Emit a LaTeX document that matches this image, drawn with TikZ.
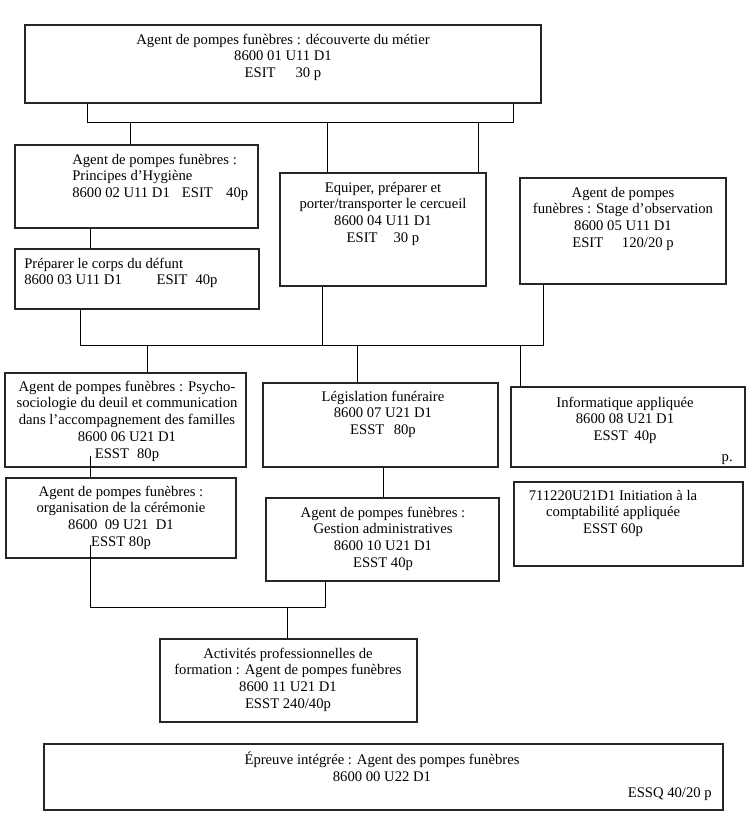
\documentclass[tikz,border=0pt]{standalone}
\usepackage{fontspec}
\setmainfont{Liberation Serif}
\usetikzlibrary{fit}
\begin{document}
\begin{tikzpicture}[x=0.75pt,y=-0.75pt,
  box/.style={draw, line width=1.1pt, inner sep=0pt, color=black!85},
  txt/.style={inner sep=0pt, align=center, font=\fontsize{11pt}{12.65pt}\selectfont},
  txtl/.style={txt, align=left},
  conn/.style={line width=0.7pt}]
\useasboundingbox (0,0) rectangle (754,817);

% boxes
\node[box, fit={(25,25) (541,103)}] (b1) {};
\node[box, fit={(15,145) (258,228)}] (b2) {};
\node[box, fit={(15,249) (259,309)}] (b3) {};
\node[box, fit={(280,173) (486,286)}] (b4) {};
\node[box, fit={(520,178) (726,284)}] (b5) {};
\node[box, fit={(5,373) (246,467)}] (b6) {};
\node[box, fit={(263,383) (498,467)}] (b7) {};
\node[box, fit={(511,387) (745,467)}] (b8) {};
\node[box, fit={(6,478) (236,558)}] (b9) {};
\node[box, fit={(266,498) (499,581)}] (b10) {};
\node[box, fit={(514,482) (743,566)}] (b11) {};
\node[box, fit={(160,639) (417,722)}] (b12) {};
\node[box, fit={(44,744) (723,810)}] (b13) {};

% texts
\node[txt, anchor=north] (t1) at (283,32) {\strut Agent de pompes funèbres : découverte du métier\\ 8600 01 U11 D1\\ ESIT\hspace*{15pt}30 p};
\node[txtl, anchor=north west] (t2) at (72,152) {\strut Agent de pompes funèbres :\\ Principes d’Hygiène\\ 8600 02 U11 D1\hspace*{9pt}ESIT\hspace*{10pt}40p};
\node[txtl, anchor=north west] (t3) at (24,256) {\strut Préparer le corps du défunt\\ 8600 03 U11 D1\hspace*{26pt}ESIT\hspace*{6pt}40p};
\node[txt, anchor=north] (t4) at (383,180) {\strut Equiper, préparer et\\ porter/transporter le cercueil\\ 8600 04 U11 D1\\ ESIT\hspace*{12pt}30 p};
\node[txt, anchor=north] (t5) at (623,185) {\strut Agent de pompes\\ funèbres : Stage d’observation\\ 8600 05 U11 D1\\ ESIT\hspace*{14pt}120/20 p};
\node[txt, anchor=north] (t6) at (127,379) {\strut Agent de pompes funèbres : Psycho-\\ sociologie du deuil et communication\\ dans l’accompagnement des familles\\ 8600 06 U21 D1\\ ESST\hspace*{6pt}80p};
\node[txt, anchor=north] (t7) at (383,389) {\strut Législation funéraire\\ 8600 07 U21 D1\\ ESST\hspace*{7pt}80p};
\node[txt, anchor=north] (t8) at (625,395) {\strut Informatique appliquée\\ 8600 08 U21 D1\\ ESST\hspace*{5pt}40p};
\node[txt, anchor=base east] (t8p) at (733,461) {p.};
\node[txt, anchor=north] (t9) at (121,484) {\strut Agent de pompes funèbres :\\ organisation de la cérémonie\\ 8600\ \ 09 U21\ \ D1\\ ESST 80p};
\node[txt, anchor=north] (t10) at (383,505) {\strut Agent de pompes funèbres :\\ Gestion administratives\\ 8600 10 U21 D1\\ ESST 40p};
\node[txt, anchor=north] (t11) at (613,488) {\strut 711220U21D1 Initiation à la\\ comptabilité appliquée\\ ESST 60p};
\node[txt, anchor=north] (t12) at (288,646) {\strut Activités professionnelles de\\ formation : Agent de pompes funèbres\\ 8600 11 U21 D1\\ ESST 240/40p};
\node[txt, anchor=north] (t13) at (382,752) {\strut Épreuve intégrée : Agent des pompes funèbres\\ 8600 00 U22 D1};
\node[txt, anchor=base east] (t13b) at (712,797) {ESSQ 40/20 p};

% connectors
\coordinate (j1a) at (87,122);
\coordinate (j1b) at (513,122);
\draw[conn] (b1.south -| j1a) -- (j1a) -- (j1b) -- (b1.south -| j1b);
\coordinate (d1) at (130,122);
\coordinate (d2) at (327,122);
\coordinate (d3) at (478,122);
\draw[conn] (d1) -- (d1 |- b2.north);
\draw[conn] (d2) -- (d2 |- b4.north);
\draw[conn] (d3) -- (d3 |- b4.north);

\coordinate (x90) at (90,0);
\draw[conn] (b2.south -| x90) -- (b3.north -| x90);

\coordinate (j2a) at (80,345);
\coordinate (j2b) at (543,345);
\coordinate (j2c) at (322,345);
\draw[conn] (b3.south -| j2a) -- (j2a) -- (j2b) -- (b5.south -| j2b);
\draw[conn] (b4.south -| j2c) -- (j2c);
\coordinate (d4) at (147,345);
\coordinate (d5) at (357,345);
\coordinate (d6) at (520,345);
\draw[conn] (d4) -- (d4 |- b6.north);
\draw[conn] (d5) -- (d5 |- b7.north);
\draw[conn] (d6) -- (d6 |- b8.north);

\coordinate (s6) at (90,456);
\draw[conn] (s6) -- (s6 |- b9.north);

\coordinate (x383) at (383,0);
\draw[conn] (b7.south -| x383) -- (b10.north -| x383);

\coordinate (s9) at (90,545);
\coordinate (j3a) at (90,607);
\coordinate (j3b) at (325,607);
\draw[conn] (s9) -- (j3a) -- (j3b) -- (b10.south -| j3b);
\coordinate (d7) at (287,607);
\draw[conn] (d7) -- (d7 |- b12.north);
\end{tikzpicture}
\end{document}
